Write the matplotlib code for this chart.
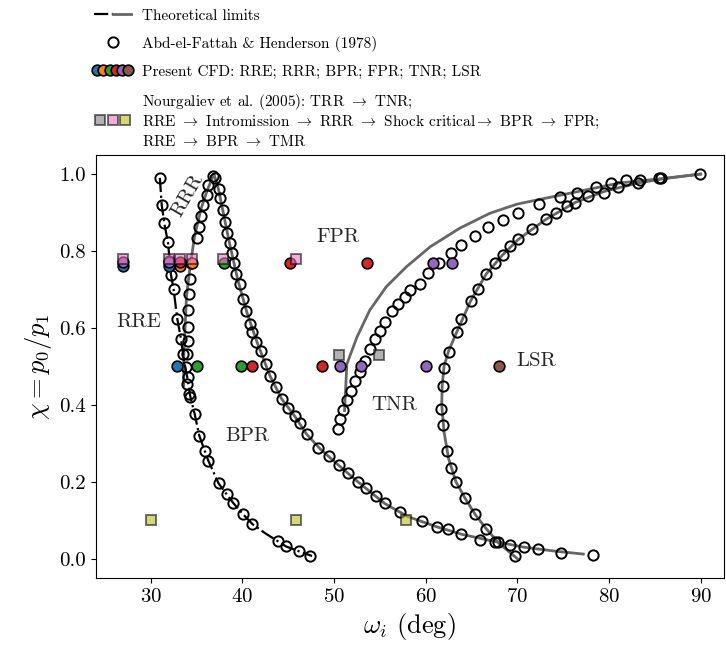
import matplotlib
matplotlib.use('Agg')
import matplotlib.pyplot as plt
from matplotlib.lines import Line2D
from matplotlib.legend_handler import HandlerTuple
from matplotlib.colors import to_rgba

plt.rcParams['font.family'] = ['cmr10', 'DejaVu Serif']
plt.rcParams['mathtext.fontset'] = 'cm'
plt.rcParams['axes.formatter.use_mathtext'] = True
plt.rcParams['axes.unicode_minus'] = False

# ---------------- Theoretical limits ----------------
bpr_lim_x = [31.0, 31.2, 31.5, 31.9, 32.2, 32.5, 32.9, 33.3, 33.6, 34.0, 34.3, 34.8, 35.3, 35.9,
             36.3, 37.4, 38.3, 39.0, 40.1, 41.1, 42.5, 43.9, 44.75, 46.2, 47.6]
bpr_lim_y = [0.99, 0.92, 0.87, 0.82, 0.74, 0.70, 0.624, 0.572, 0.52, 0.47, 0.424, 0.376, 0.32, 0.28,
             0.254, 0.196, 0.167, 0.145, 0.115, 0.09, 0.066, 0.045, 0.032, 0.019, 0.007]

rrr_lim_x = [33.6, 33.6, 33.9, 34.3, 34.8, 35.5, 36.2, 36.9, 37.4, 38.0, 38.6, 39.5, 40.5, 41.6,
             43.0, 44.3, 45.7, 47.0, 48.5, 50.5, 52.6, 55.5, 58.0, 61.2, 64.0, 67.5, 70.7, 74.0, 77.2]
rrr_lim_y = [0.45, 0.52, 0.68, 0.76, 0.84, 0.91, 0.96, 1.0, 0.96, 0.89, 0.82, 0.725, 0.64, 0.563,
             0.476, 0.415, 0.371, 0.324, 0.285, 0.243, 0.2, 0.144, 0.11, 0.083, 0.063, 0.045, 0.03, 0.02, 0.012]

tnr_lim_x = [51.15, 51.4, 52.5, 53.9, 55.7, 57.9, 60.5, 63.7, 67.0, 70.0, 75.7, 81.2, 86.6, 90.0]
tnr_lim_y = [0.385, 0.506, 0.576, 0.646, 0.707, 0.759, 0.811, 0.859, 0.898, 0.922, 0.95, 0.977, 0.99, 1.0]

lsr_lim_x = [70.0, 68.0, 66.6, 65.4, 64.3, 63.3, 62.5, 62.0, 61.75, 61.8, 62.0, 62.5, 63.4, 64.9,
             66.6, 68.4, 70.1, 73.1, 76.3, 79.5, 83.2, 86.5, 90.0]
lsr_lim_y = [0.0, 0.04, 0.078, 0.115, 0.157, 0.2, 0.26, 0.33, 0.4, 0.45, 0.5, 0.54, 0.59, 0.67,
             0.74, 0.79, 0.83, 0.882, 0.926, 0.955, 0.977, 0.99, 1.0]

# ---------------- Abd-el-Fattah & Henderson (1978) ----------------
exp1_x = [31.0, 31.2, 31.45, 31.9, 32.0, 32.2, 32.5, 32.9, 33.3, 33.5, 34.1, 34.2, 34.8, 35.3,
          35.9, 36.3, 37.4, 38.3, 39.0, 40.1, 41.1, 43.9, 44.75, 46.2, 47.4]
exp1_y = [0.99, 0.92, 0.872, 0.824, 0.775, 0.737, 0.702, 0.624, 0.572, 0.533, 0.472, 0.428, 0.376, 0.32,
          0.28, 0.254, 0.196, 0.167, 0.145, 0.115, 0.09, 0.045, 0.032, 0.019, 0.008]

exp2_x = [34.3, 34.0, 33.9, 34.0, 34.1, 34.1, 34.1, 34.2, 34.3, 34.4, 35.1, 35.3, 35.5, 35.7,
          36.1, 36.3, 36.8, 37.0, 37.4, 37.55, 37.85, 38.1, 38.35, 38.6, 38.9, 39.1, 39.35, 39.7,
          40.1, 40.45, 40.8, 41.1, 41.5, 42.0, 42.6, 43.0, 43.7, 44.3, 45.0, 45.7, 46.3, 47.0,
          48.3, 49.4, 50.5, 51.5, 52.6, 53.5, 54.6, 55.55, 57.2, 59.55, 61.25, 62.4, 63.9, 65.9,
          67.55, 69.2, 70.7, 72.3, 74.8, 78.3]
exp2_y = [0.42, 0.455, 0.498, 0.533, 0.567, 0.602, 0.646, 0.689, 0.728, 0.77, 0.833, 0.863, 0.89, 0.92,
          0.946, 0.972, 0.994, 0.99, 0.96, 0.937, 0.907, 0.876, 0.846, 0.82, 0.796, 0.77, 0.74, 0.715,
          0.674, 0.645, 0.61, 0.59, 0.563, 0.541, 0.506, 0.476, 0.446, 0.415, 0.393, 0.371, 0.354, 0.324,
          0.289, 0.266, 0.243, 0.222, 0.2, 0.183, 0.163, 0.144, 0.121, 0.097, 0.083, 0.076, 0.063, 0.048,
          0.043, 0.035, 0.03, 0.024, 0.016, 0.009]

exp3_x = [50.45, 50.7, 51.0, 51.4, 51.8, 52.3, 52.8, 53.4, 53.9, 54.5, 55.0, 55.6, 56.3, 57.0,
          57.7, 58.3, 59.4, 60.3, 61.5, 62.75, 63.9, 65.4, 66.8, 68.45, 70.1, 72.4, 74.6, 76.5,
          78.6, 80.2, 81.9, 83.4, 85.5, 89.9]
exp3_y = [0.337, 0.362, 0.387, 0.413, 0.437, 0.461, 0.486, 0.515, 0.546, 0.57, 0.593, 0.615, 0.643, 0.663,
          0.681, 0.698, 0.715, 0.742, 0.768, 0.794, 0.815, 0.839, 0.862, 0.88, 0.898, 0.922, 0.94, 0.952,
          0.966, 0.977, 0.985, 0.985, 0.99, 1.0]

exp4_x = [69.7, 67.9, 66.6, 65.4, 64.3, 63.3, 62.8, 62.3, 61.85, 61.7, 61.85, 62.0, 62.55, 63.4,
          63.9, 64.9, 65.7, 66.6, 67.55, 68.4, 69.2, 70.1, 71.55, 73.1, 74.2, 75.4, 76.3, 77.7,
          79.5, 81.0, 83.2, 85.7]
exp4_y = [0.006, 0.043, 0.078, 0.115, 0.157, 0.2, 0.235, 0.28, 0.348, 0.389, 0.45, 0.496, 0.537, 0.589,
          0.624, 0.67, 0.702, 0.74, 0.768, 0.789, 0.813, 0.83, 0.856, 0.882, 0.9, 0.916, 0.926, 0.942,
          0.952, 0.966, 0.977, 0.99]

# ---------------- Present CFD ----------------
rre_x = [27.0, 32.0, 32.9]
rre_y = [0.762, 0.762, 0.5]
rrr_x = [33.2, 34.5]
rrr_y = [0.762, 0.77]
bpr_x = [38.0, 35.0, 39.9]
bpr_y = [0.77, 0.5, 0.5]
fpr_x = [33.2, 45.2, 53.55, 41.1, 48.65]
fpr_y = [0.772, 0.77, 0.77, 0.5, 0.5]
tnr_x = [27.0, 32.0, 60.8, 62.9, 50.6, 52.9, 60.0]
tnr_y = [0.772, 0.772, 0.77, 0.77, 0.5, 0.5, 0.5]
lsr_x = [68.0]
lsr_y = [0.5]

# ---------------- Nourgaliev et al. (2005) ----------------
ng_gray_x = [50.5, 54.9]
ng_gray_y = [0.53, 0.53]
ng_pink_x = [27.0, 32.0, 33.2, 34.5, 37.9, 45.9]
ng_pink_y = [0.78, 0.78, 0.78, 0.78, 0.78, 0.78]
ng_olive_x = [30.0, 45.9, 57.9]
ng_olive_y = [0.1, 0.1, 0.1]

region_labels = ['RRR', 'FPR', 'RRE', 'TNR', 'BPR', 'LSR']
region_x = [34.0, 50.45, 28.65, 56.6, 40.5, 69.9]
region_y = [0.945, 0.837, 0.615, 0.40, 0.318, 0.515]

fig = plt.figure(figsize=(7.26, 6.56), dpi=100)
ax = fig.add_axes([0.1318, 0.119, 0.8649, 0.645])

gray = '0.4'
ax.plot(rrr_lim_x, rrr_lim_y, color=gray, lw=2.0, zorder=1)
ax.plot(tnr_lim_x, tnr_lim_y, color=gray, lw=2.0, zorder=1)
ax.plot(lsr_lim_x, lsr_lim_y, color=gray, lw=2.0, zorder=1)
ax.plot(bpr_lim_x, bpr_lim_y, color='k', lw=1.6, ls='-.', zorder=1)

ms_open = 7.4
for xs, ys in [(exp1_x, exp1_y), (exp2_x, exp2_y), (exp3_x, exp3_y), (exp4_x, exp4_y)]:
    ax.plot(xs, ys, 'o', ms=ms_open, mfc='none', mec='k', mew=1.4, zorder=3)

cfd = [(rre_x, rre_y, 'tab:blue'), (rrr_x, rrr_y, 'tab:orange'), (bpr_x, bpr_y, 'tab:green'),
       (fpr_x, fpr_y, 'tab:red'), (tnr_x, tnr_y, 'tab:purple'), (lsr_x, lsr_y, 'tab:brown')]
for xs, ys, c in cfd:
    ax.plot(xs, ys, 'o', ms=7.7, mfc=c, mec='k', mew=1.2, zorder=4)

sq_style = dict(ms=7.8, mew=1.4, zorder=5)
for xs, ys, c in [(ng_gray_x, ng_gray_y, 'tab:gray'), (ng_pink_x, ng_pink_y, 'tab:pink'),
                  (ng_olive_x, ng_olive_y, 'tab:olive')]:
    ax.plot(xs, ys, 's', mfc=to_rgba(c, 0.6), mec=to_rgba('k', 0.55), ls='none', **sq_style)

for lab, x, y in zip(region_labels, region_x, region_y):
    if lab == 'RRR':
        ax.text(x, y, lab, fontsize=15, ha='center', va='center', rotation=60, color='0.15')
    elif lab == 'LSR':
        ax.text(x, y, lab, fontsize=15, ha='left', va='center', color='0.15')
    else:
        ax.text(x, y, lab, fontsize=15, ha='center', va='center', color='0.15')

ax.set_xlim(24.0, 92.5)
ax.set_ylim(-0.05, 1.05)
ax.set_xticks([30, 40, 50, 60, 70, 80, 90])
ax.set_yticks([0.0, 0.2, 0.4, 0.6, 0.8, 1.0])
ax.set_yticklabels(['0.0', '0.2', '0.4', '0.6', '0.8', '1.0'])
ax.tick_params(labelsize=15)
ax.set_xlabel(r'$\omega_i$ (deg)', fontsize=19)
ax.set_ylabel(r'$\chi = p_0/p_1$', fontsize=19)

# legend
h_theory = (Line2D([], [], color='k', ls='-.', lw=1.6), Line2D([], [], color=gray, lw=2.0))
h_exp = Line2D([], [], ls='none', marker='o', ms=ms_open, mfc='none', mec='k', mew=1.4)
h_cfd = tuple(Line2D([], [], ls='none', marker='o', ms=7.7, mfc=c, mec='k', mew=1.2)
              for c in ['tab:blue', 'tab:orange', 'tab:green', 'tab:red', 'tab:purple', 'tab:brown'])
h_ng = tuple(Line2D([], [], ls='none', marker='s', ms=7.6, mfc=to_rgba(c, 0.6), mec=to_rgba('k', 0.55), mew=1.4)
             for c in ['tab:gray', 'tab:pink', 'tab:olive'])
labels = ['Theoretical limits', 'Abd-el-Fattah & Henderson (1978)',
          'Present CFD: RRE; RRR; BPR; FPR; TNR; LSR',
          'Nourgaliev et al. (2005): TRR $\\rightarrow$ TNR;\n'
          'RRE $\\rightarrow$ Intromission $\\rightarrow$ RRR $\\rightarrow$ Shock critical$\\rightarrow$ BPR $\\rightarrow$ FPR;\n'
          'RRE $\\rightarrow$ BPR $\\rightarrow$ TMR']
ax.legend([h_theory, h_exp, h_cfd, h_ng], labels,
          handler_map={tuple: HandlerTuple(ndivide=None, pad=0.0)},
          loc='lower left', bbox_to_anchor=(-0.012, 1.0), frameon=False, fontsize=11,
          handlelength=2.4, handletextpad=0.7, labelspacing=0.85, borderaxespad=0.0)

fig.savefig('out.png', dpi=100)
